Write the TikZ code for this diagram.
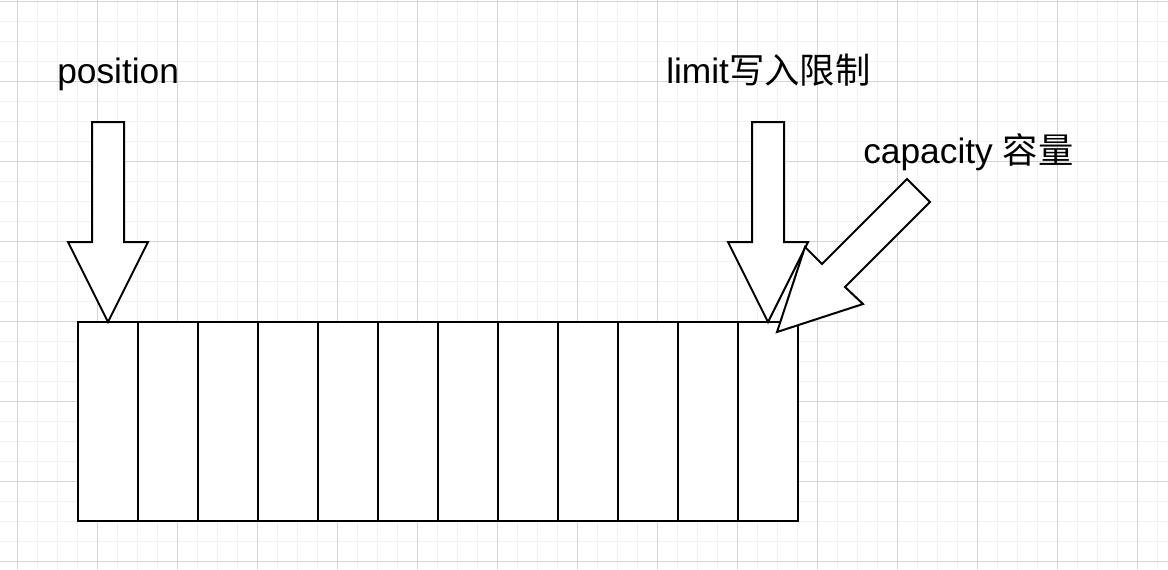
\documentclass[tikz,border=0pt]{standalone}
\usepackage{fontspec}
\setmainfont{Liberation Sans}
\newfontfamily\cjk{Noto Sans CJK SC}
\usepackage{xcolor}
\usepackage{tikz}

\begin{document}
\begin{tikzpicture}[x = 0.75pt,
                    y = -0.75pt,
                    line cap = round]

  % BACKGROUND and GRID
  \definecolor{minorgridcolor}{rgb}{ 0.945,0.945,0.945 }
  \definecolor{majorgridcolor}{rgb}{ 0.83,0.83,0.83 }
  \tikzstyle{minorgrid} = [draw=minorgridcolor, line width=0.75 pt]
  \tikzstyle{majorgrid} = [draw=majorgridcolor, line width=0.75 pt]

  \fill[white] (0, 0) rectangle (1168, 569);
  \useasboundingbox (0, 0) rectangle (1168, 569);

  \foreach \gx in {17, 37, ..., 1157} {\draw[minorgrid] (\gx, 0) -- (\gx, 569);}
  \foreach \gy in {1, 21, ..., 561} {\draw[minorgrid] (0, \gy) -- (1168, \gy);}
  \foreach \gx in {17, 97, ..., 1137} {\draw[majorgrid] (\gx, 0) -- (\gx, 569);}
  \foreach \gy in {1, 81, ..., 561} {\draw[majorgrid] (0, \gy) -- (1168, \gy);}


  % SHAPES STYLE
  \tikzstyle{cellstyle} = [fill=white, draw=black, line width=1.5 pt, line join=miter]
  \tikzstyle{arrowstyle} = [fill=white, draw=black, line width=1.5 pt, line join=miter]
  \tikzstyle{labelstyle} = [anchor=base west, inner sep=0 pt, font=\fontsize{26.5}{32}\selectfont]


  % BUFFER CELLS
  \draw[cellstyle] (78, 322) rectangle (138, 521);
  \draw[cellstyle] (138, 322) rectangle (198, 521);
  \draw[cellstyle] (198, 322) rectangle (258, 521);
  \draw[cellstyle] (258, 322) rectangle (318, 521);
  \draw[cellstyle] (318, 322) rectangle (378, 521);
  \draw[cellstyle] (378, 322) rectangle (438, 521);
  \draw[cellstyle] (438, 322) rectangle (498, 521);
  \draw[cellstyle] (498, 322) rectangle (558, 521);
  \draw[cellstyle] (558, 322) rectangle (618, 521);
  \draw[cellstyle] (618, 322) rectangle (678, 521);
  \draw[cellstyle] (678, 322) rectangle (738, 521);
  \draw[cellstyle] (738, 322) rectangle (798, 521);


  % DEF POINTS
  \coordinate (pos0) at (92, 122);
  \coordinate (pos1) at (124, 122);
  \coordinate (pos2) at (124, 242);
  \coordinate (pos3) at (148, 242);
  \coordinate (pos4) at (108, 322);
  \coordinate (pos5) at (68, 242);
  \coordinate (pos6) at (92, 242);

  \coordinate (lim0) at (752, 122);
  \coordinate (lim1) at (784, 122);
  \coordinate (lim2) at (784, 242);
  \coordinate (lim3) at (808, 242);
  \coordinate (lim4) at (768, 322);
  \coordinate (lim5) at (728, 242);
  \coordinate (lim6) at (752, 242);

  \coordinate (cap0) at (907, 179);
  \coordinate (cap1) at (930, 202);
  \coordinate (cap2) at (845, 287);
  \coordinate (cap3) at (863, 304);
  \coordinate (cap4) at (777, 332);
  \coordinate (cap5) at (805, 247);
  \coordinate (cap6) at (822, 264);


  % ARROWS
  \draw[arrowstyle] (pos0) -- (pos1) -- (pos2) -- (pos3) -- (pos4) -- (pos5) -- (pos6) -- cycle;
  \draw[arrowstyle] (lim0) -- (lim1) -- (lim2) -- (lim3) -- (lim4) -- (lim5) -- (lim6) -- cycle;
  \draw[arrowstyle] (cap0) -- (cap1) -- (cap2) -- (cap3) -- (cap4) -- (cap5) -- (cap6) -- cycle;


  % LABELS
  \node[labelstyle] (position) at (57, 83) {position};
  \node[labelstyle] (limit) at (666, 83) {limit{\cjk 写入限制}};
  \node[labelstyle] (capacity) at (863, 163) {capacity {\cjk 容量}};

\end{tikzpicture}
\end{document}
